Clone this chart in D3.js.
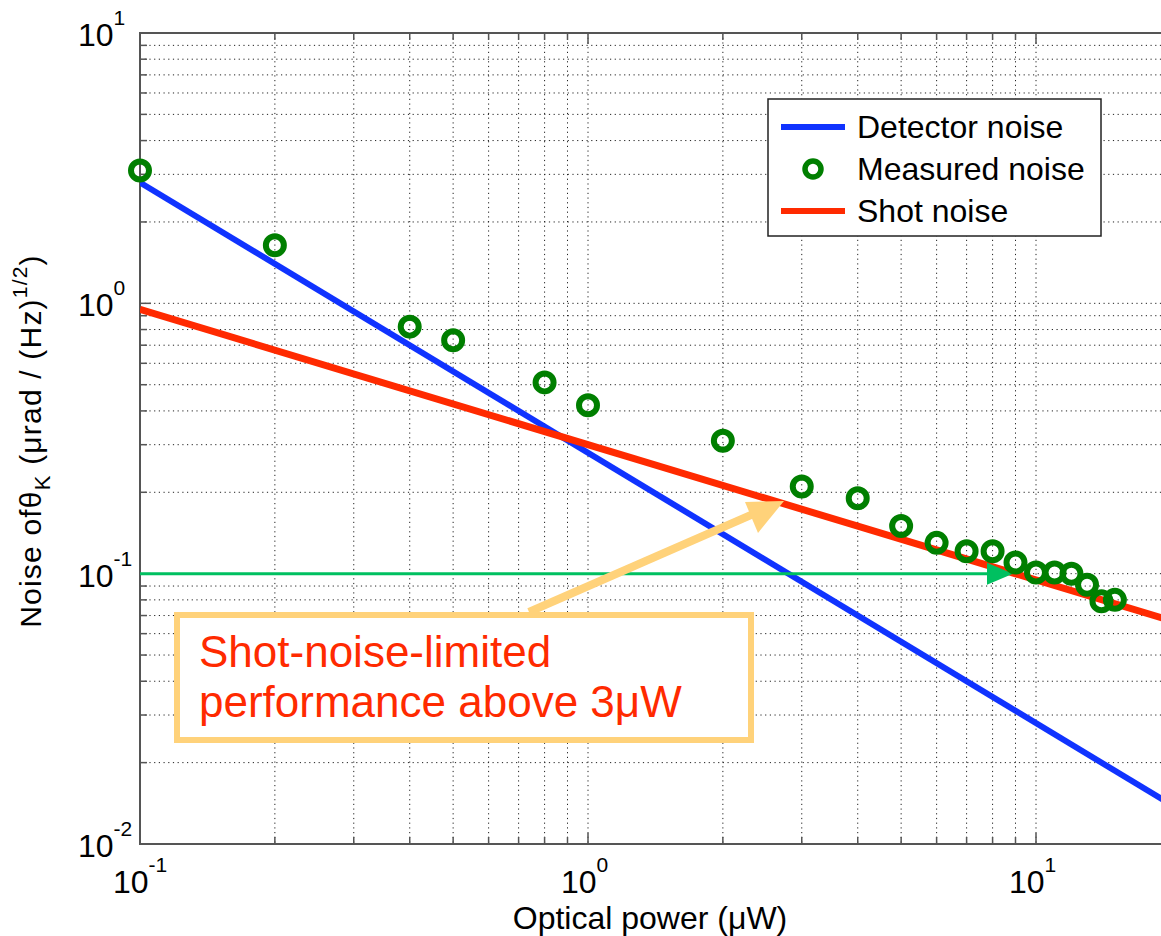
<!DOCTYPE html>
<html>
<head>
<meta charset="utf-8">
<script src="https://cdn.jsdelivr.net/npm/d3@7"></script>
<style>
body { margin: 0; background: #fff; }
svg { font-family: "Liberation Sans", Arial, sans-serif; }
</style>
</head>
<body>
<svg id="chart" width="1161" height="936"></svg>
<script>
// measured noise
var powerMeasured = [0.1, 0.2, 0.4, 0.5, 0.8, 1, 2, 3, 4, 5, 6, 7, 8, 9, 10, 11, 12, 13, 14, 15];
var noiseMeasured = [3.1, 1.64, 0.82, 0.73, 0.51, 0.42, 0.31, 0.21, 0.19, 0.15, 0.13, 0.121, 0.121, 0.11, 0.101, 0.101, 0.1, 0.091, 0.079, 0.080];
// fitted lines (end points)
var powerLine = [0.1, 20];
var detectorNoise = [2.8, 0.014];
var shotNoise = [0.95, 0.067];
var xTicks = [0.1, 1, 10];
var xTickExp = ["-1", "0", "1"];
var yTicks = [0.01, 0.1, 1, 10];
var yTickExp = ["-2", "-1", "0", "1"];
var legendLabels = ["Detector noise", "Measured noise", "Shot noise"];

var svg = d3.select("#chart");
var pLeft = 140, pTop = 33, pBottom = 844, pRight = 1161;

var x = d3.scaleLog().domain([0.1, 20]).range([pLeft, pLeft + 448 * Math.log10(200)]);
var y = d3.scaleLog().domain([0.01, 10]).range([pBottom, pTop]);

svg.append("defs").append("clipPath").attr("id", "plotclip")
	.append("rect").attr("x", pLeft).attr("y", pTop).attr("width", pRight - pLeft).attr("height", pBottom - pTop);

// grid values
var gridX = [], gridY = [];
[0.1, 1, 10].forEach(function(d){ for (var k = 1; k < 10; k++) { var v = d * k; if (v > 0.1 && v <= 20) gridX.push(v); } });
[0.01, 0.1, 1].forEach(function(d){ for (var k = 1; k < 10; k++) { var v = d * k; if (v > 0.01) gridY.push(v); } });

var grid = svg.append("g").attr("clip-path", "url(#plotclip)");
grid.selectAll("line.gx").data(gridX).enter().append("line")
	.attr("x1", function(d){return x(d);}).attr("x2", function(d){return x(d);})
	.attr("y1", pTop).attr("y2", pBottom)
	.attr("stroke", "#222").attr("stroke-width", 1).attr("stroke-dasharray", "1.2,3.5");
grid.selectAll("line.gy").data(gridY).enter().append("line")
	.attr("y1", function(d){return y(d);}).attr("y2", function(d){return y(d);})
	.attr("x1", pLeft).attr("x2", pRight)
	.attr("stroke", "#222").attr("stroke-width", 1).attr("stroke-dasharray", "1.2,3.5");

// ticks (inward) on left, bottom, top
var isMajor = function(d){ return Math.abs(Math.log10(d) - Math.round(Math.log10(d))) < 1e-9; };
var ticks = svg.append("g").attr("stroke", "#555").attr("stroke-width", 1.5);
ticks.selectAll("line.ty").data(gridY).enter().append("line")
	.attr("x1", pLeft).attr("x2", function(d){return pLeft + (isMajor(d) ? 11 : 7);})
	.attr("y1", function(d){return y(d);}).attr("y2", function(d){return y(d);});
ticks.selectAll("line.tb").data(gridX).enter().append("line")
	.attr("x1", function(d){return x(d);}).attr("x2", function(d){return x(d);})
	.attr("y1", pBottom).attr("y2", function(d){return pBottom - (isMajor(d) ? 11 : 7);});
ticks.selectAll("line.tt").data(gridX).enter().append("line")
	.attr("x1", function(d){return x(d);}).attr("x2", function(d){return x(d);})
	.attr("y1", pTop).attr("y2", function(d){return pTop + (isMajor(d) ? 11 : 7);});

// frame
svg.append("path").attr("d", "M" + pRight + "," + pTop + "H" + pLeft + "V" + pBottom + "H" + pRight)
	.attr("fill", "none").attr("stroke", "#555").attr("stroke-width", 2);

// tick labels
yTicks.forEach(function(d, i){
	var t = svg.append("text").attr("x", 78).attr("y", y(d) + 13).attr("font-size", 32).attr("fill", "#000");
	t.append("tspan").text("10");
	t.append("tspan").attr("dy", -21).attr("font-size", 21).text(yTickExp[i]);
});
xTicks.forEach(function(d, i){
	var t = svg.append("text").attr("x", x(d) - 27).attr("y", 893).attr("font-size", 32).attr("fill", "#000");
	t.append("tspan").text("10");
	t.append("tspan").attr("dy", -21).attr("font-size", 21).text(xTickExp[i]);
});

// axis labels
svg.append("text").attr("x", 650).attr("y", 929).attr("text-anchor", "middle")
	.attr("font-size", 32).text("Optical power (\u03bcW)");
var ylab = svg.append("text").attr("transform", "translate(41,441) rotate(-90)")
	.attr("text-anchor", "middle").attr("font-size", 30).attr("letter-spacing", 1.2);
ylab.append("tspan").text("Noise of\u03b8");
ylab.append("tspan").attr("dy", 9).attr("font-size", 22).text("K");
ylab.append("tspan").attr("dy", -9).text(" (\u03bcrad / (Hz)");
ylab.append("tspan").attr("dy", -14).attr("font-size", 21).text("1/2");
ylab.append("tspan").attr("dy", 14).text(")");

// lines
var plot = svg.append("g").attr("clip-path", "url(#plotclip)");
var line = d3.line().x(function(d){return x(d[0]);}).y(function(d){return y(d[1]);});
plot.append("path").datum(d3.zip(powerLine, detectorNoise)).attr("d", line)
	.attr("fill", "none").attr("stroke", "#1033ff").attr("stroke-width", 6);
plot.append("path").datum(d3.zip(powerLine, shotNoise)).attr("d", line)
	.attr("fill", "none").attr("stroke", "#ff2a00").attr("stroke-width", 7);

// green arrow at 0.1
var g01 = y(0.1);
plot.append("line").attr("x1", pLeft).attr("x2", 990).attr("y1", g01).attr("y2", g01)
	.attr("stroke", "#00c060").attr("stroke-width", 3);
plot.append("path").attr("d", "M987," + (g01 - 11) + "L1013," + g01 + "L987," + (g01 + 11) + "Z")
	.attr("fill", "#00c060");

svg.selectAll("circle.m").data(d3.zip(powerMeasured, noiseMeasured)).enter().append("circle")
	.attr("cx", function(d){return x(d[0]);})
	.attr("cy", function(d){return y(d[1]);})
	.attr("r", 9).attr("fill", "none").attr("stroke", "#007f00").attr("stroke-width", 6);

// legend
var lg = svg.append("g");
lg.append("rect").attr("x", 768).attr("y", 99).attr("width", 333).attr("height", 137)
	.attr("fill", "#fff").attr("stroke", "#222").attr("stroke-width", 1.5);
var legendY = [127, 169, 211];
lg.append("line").attr("x1", 781).attr("x2", 845).attr("y1", legendY[0]).attr("y2", legendY[0])
	.attr("stroke", "#1033ff").attr("stroke-width", 6);
lg.append("circle").attr("cx", 813).attr("cy", legendY[1]).attr("r", 8)
	.attr("fill", "none").attr("stroke", "#007f00").attr("stroke-width", 5.5);
lg.append("line").attr("x1", 781).attr("x2", 845).attr("y1", legendY[2]).attr("y2", legendY[2])
	.attr("stroke", "#ff2a00").attr("stroke-width", 6);
lg.selectAll("text").data(legendLabels).enter().append("text")
	.attr("x", 857).attr("y", function(d, i){return legendY[i] + 11;})
	.attr("font-size", 32).text(function(d){return d;});

// annotation
svg.append("line").attr("x1", 529).attr("y1", 612).attr("x2", 760).attr("y2", 511)
	.attr("stroke", "#ffd27a").attr("stroke-width", 8);
svg.append("path").attr("d", "M745,502L784,501L758,533Z").attr("fill", "#ffd27a");
svg.append("rect").attr("x", 177).attr("y", 615).attr("width", 574).attr("height", 125)
	.attr("fill", "#fff").attr("stroke", "#ffd27a").attr("stroke-width", 6);
var ann = ["Shot-noise-limited", "performance above 3\u03bcW"];
svg.selectAll("text.ann").data(ann).enter().append("text")
	.attr("x", 199).attr("y", function(d, i){return 667 + i * 50;})
	.attr("font-size", 44).attr("fill", "#ff2a00").text(function(d){return d;});
</script>
</body>
</html>
